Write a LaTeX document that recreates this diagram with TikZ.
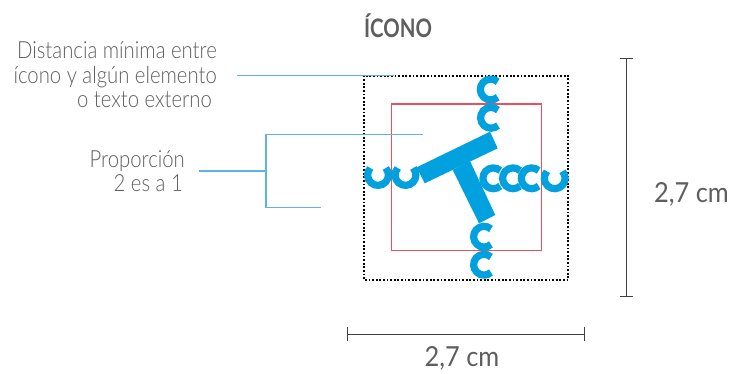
\documentclass[tikz,border=0pt]{standalone}
\usepackage{fontspec}
\setmainfont{Lato Light}[FakeStretch=0.86]
\newfontfamily\titlefont{Lato Bold}[FakeStretch=0.8]
\newfontfamily\dimfont{Lato}[FakeStretch=0.92]
\usetikzlibrary{arrows.meta}
\definecolor{iconblue}{HTML}{00A1DE}
\definecolor{leaderblue}{HTML}{5CB3E4}
\definecolor{boxred}{HTML}{E9505F}
\definecolor{textgray}{HTML}{5E5E5E}
\tikzset{
    label/.style={text=textgray, align=right, inner sep=0pt, font=\fontsize{23.6}{24.6}\selectfont},
    dimlabel/.style={text=textgray, inner sep=0pt, font=\dimfont\fontsize{27.6}{30}\selectfont},
    leader/.style={draw=leaderblue, line width=1.3pt},
    dimline/.style={draw=black!75, line width=1pt, {Bar[width=13.5pt,line width=1pt]}-{Bar[width=13.5pt,line width=1pt]}},
    letter/.style={draw=iconblue, line width=7.2pt}
}
\begin{document}
\begin{tikzpicture}[x=1pt,y=-1pt]
    \useasboundingbox (0,0) rectangle (731,374);
    % frames
    \draw[black, line width=1.8pt, dash pattern=on 1.8pt off 1.8pt] (364,75.7) rectangle (568.3,280);
    \draw[boxred, line width=1.2pt] (391.3,104) rectangle (541.3,250.7);
    % letter T
    \fill[iconblue] (416.7,167.3) -- (490,131.7) -- (497.7,148.3) -- (424.7,183.3) -- cycle;
    \fill[iconblue] (452.7,170) -- (470,161) -- (495.3,215) -- (479,223.3) -- cycle;
    % letters c, facing right
    \foreach \cx/\cy in {490.7/89.5, 491/117.8, 484/236.7, 484/264.7, 493.3/178.3, 513/178.3, 531.7/178.3}
        \draw[letter] ([shift={(48:10.4pt)}]\cx,\cy) arc[start angle=48, end angle=312, radius=10.4pt];
    % letters c, facing up
    \foreach \cx/\cy in {378/175, 405.5/175, 554.7/178.3}
        \draw[letter] ([shift={(138:10.4pt)}]\cx,\cy) arc[start angle=138, end angle=402, radius=10.4pt];

    \node[text=textgray, inner sep=0pt, font=\titlefont\fontsize{25.5}{28}\selectfont] (title) at (398,26) {ÍCONO};
    \node[label, anchor=north east] (distance) at (217,41.5) {Distancia mínima entre\\ícono y algún elemento\\o texto externo\rule{5pt}{0pt}};
    \node[label, anchor=north east] (ratio) at (185,150) {Proporción\\2 es a 1\rule{2pt}{0pt}};
    \node[dimlabel] (height) at (691.5,194) {2,7 cm};
    \node[dimlabel] (width) at (462,358) {2,7 cm};

    \coordinate (distanceA) at (237.3,75.7);
    \coordinate (distanceB) at (394,75.7);
    \coordinate (ratioA) at (199.3,171);
    \coordinate (ratioB) at (266,171);
    \coordinate (bracketT) at (422.7,134.3);
    \coordinate (bracketB) at (320.7,207.3);
    \coordinate (heightT) at (626.7,58.5);
    \coordinate (heightB) at (626.7,296.5);
    \coordinate (widthL) at (347,334);
    \coordinate (widthR) at (585.3,334);

    \draw[leader] (distanceA) -- (distanceB);
    \draw[leader] (ratioA) -- (ratioB);
    \draw[leader] (bracketT) -- (bracketT -| ratioB) -- (bracketB -| ratioB) -- (bracketB);
    \draw[dimline] (heightT) -- (heightB);
    \draw[dimline] (widthL) -- (widthR);
\end{tikzpicture}
\end{document}
